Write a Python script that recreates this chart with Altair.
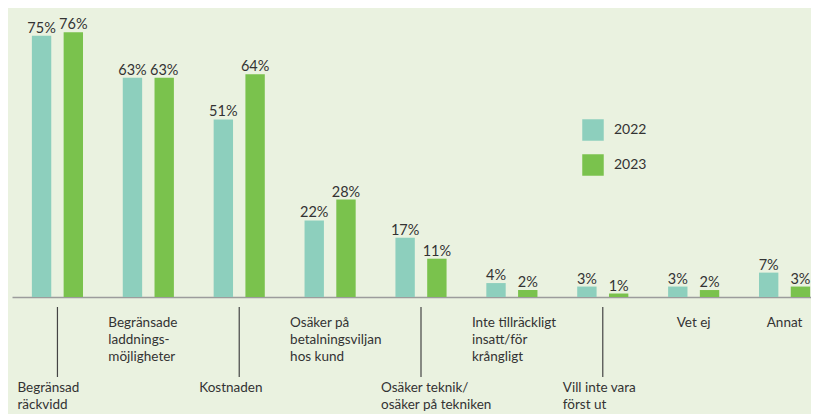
import altair as alt
import pandas as pd

categories = [
    "Begränsad räckvidd",
    "Begränsade laddningsmöjligheter",
    "Kostnaden",
    "Osäker på betalningsviljan hos kund",
    "Osäker teknik/osäker på tekniken",
    "Inte tillräckligt insatt/för krångligt",
    "Vill inte vara först ut",
    "Vet ej",
    "Annat",
]
years = ["2022", "2023"]
values_2022 = [75, 63, 51, 22, 17, 4, 3, 3, 7]
values_2023 = [76, 63, 64, 28, 11, 2, 1, 2, 3]
labels = [
    "Begränsad\nräckvidd",
    "Begränsade\nladdnings-\nmöjligheter",
    "Kostnaden",
    "Osäker på\nbetalningsviljan\nhos kund",
    "Osäker teknik/\nosäker på tekniken",
    "Inte tillräckligt\ninsatt/för\nkrångligt",
    "Vill inte vara\nförst ut",
    "Vet ej",
    "Annat",
]
label_row = ["low", "high", "low", "high", "low", "high", "low", "high", "high"]
label_kind = ["left", "left", "left", "left", "left", "left", "left", "center", "center"]

colors = ["#8dcfbd", "#7ac24d"]
FONT = "Lato"
TXT = "#333333"

rows = []
for i, c in enumerate(categories):
    rows.append({"category": c, "year": years[0], "value": values_2022[i]})
    rows.append({"category": c, "year": years[1], "value": values_2023[i]})
bars_df = pd.DataFrame(rows)
bars_df["label"] = bars_df["value"].astype(str) + "%"

lab_df = pd.DataFrame({"category": categories, "text": labels, "row": label_row, "kind": label_kind})

W = 799
H = 289
xscale = alt.Scale(domain=categories, range=[0, 818], paddingInner=0, paddingOuter=0)
xenc = alt.X("category:N", scale=xscale, sort=categories,
             axis=alt.Axis(labels=False, ticks=False, title=None, domain=True,
                           domainColor="#9c9c9c", domainWidth=1.5, grid=False))
yscale = alt.Scale(domain=[0, 83])
xoff = alt.XOffset("year:N", scale=alt.Scale(domain=years, paddingInner=0.39, paddingOuter=0.626))

bars = alt.Chart(bars_df).mark_bar().encode(
    x=xenc,
    xOffset=xoff,
    y=alt.Y("value:Q", scale=yscale, axis=None),
    color=alt.Color("year:N", scale=alt.Scale(domain=years, range=colors),
                    legend=alt.Legend(orient="none", legendX=570, legendY=111, title=None,
                                      symbolType="square", symbolSize=462, symbolStrokeWidth=0,
                                      labelFontSize=14, labelOffset=10, rowPadding=13,
                                      labelFont=FONT, labelColor=TXT, padding=0)),
)

vals = alt.Chart(bars_df).mark_text(dy=-7, font=FONT, fontSize=14.5, color=TXT).encode(
    x=xenc,
    xOffset=xoff,
    y=alt.Y("value:Q", scale=yscale, axis=None),
    text="label:N",
)

base_lab = alt.Chart(lab_df)
high_left = base_lab.transform_filter("datum.row == 'high' && datum.kind == 'left'").mark_text(
    align="left", baseline="top", dx=-40, lineBreak="\n", lineHeight=17,
    font=FONT, fontSize=13.5, color=TXT
).encode(x=xenc, y=alt.value(308), text="text:N")
high_center = base_lab.transform_filter("datum.row == 'high' && datum.kind == 'center'").mark_text(
    align="center", baseline="top", lineBreak="\n", lineHeight=17,
    font=FONT, fontSize=13.5, color=TXT
).encode(x=xenc, y=alt.value(308), text="text:N")
low_left = base_lab.transform_filter("datum.row == 'low'").mark_text(
    align="left", baseline="top", dx=-40, lineBreak="\n", lineHeight=17,
    font=FONT, fontSize=13.5, color=TXT
).encode(x=xenc, y=alt.value(373), text="text:N")
ticks = base_lab.transform_filter("datum.row == 'low'").mark_rule(
    color="#444444", strokeWidth=1.2
).encode(x=xenc, y=alt.value(299), y2=alt.value(369))

chart = alt.layer(bars, vals, ticks, high_left, high_center, low_left).properties(
    width=W, height=H, background="#eaf2e0",
    autosize=alt.AutoSizeParams(type="none"),
    padding={"left": 4, "top": 0, "right": 0, "bottom": 117},
).configure_view(strokeWidth=0)

chart.save("out.html", embed_options={"renderer": "svg", "actions": False})
